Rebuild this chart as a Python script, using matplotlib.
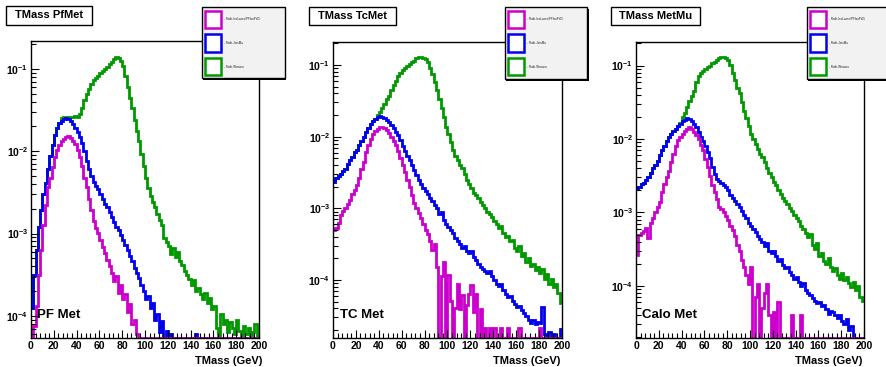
import numpy as np
import matplotlib
matplotlib.use('Agg')
import matplotlib.pyplot as plt
from matplotlib.patches import Rectangle
from matplotlib.ticker import FixedLocator, FuncFormatter, MultipleLocator, NullFormatter

plt.rcParams['font.family'] = ['Liberation Sans', 'DejaVu Sans']
plt.rcParams['mathtext.fontset'] = 'custom'
plt.rcParams['mathtext.rm'] = 'Liberation Sans:bold'
plt.rcParams['mathtext.bf'] = 'Liberation Sans:bold'
plt.rcParams['mathtext.it'] = 'Liberation Sans:bold'

# ---------------- data: log10(bin content), 2 GeV bins 0..200, None = empty bin
bin_edges = np.arange(0, 202, 2)
N = None

pf_iso = [
    N, -4.13, -3.88, -3.50, -3.20, -2.90, -2.65, -2.43, -2.33, -2.19,
    -2.07, -1.99, -1.93, -1.88, -1.85, -1.83, -1.82, -1.84, -1.87, -1.91,
    -1.98, -2.07, -2.18, -2.33, -2.44, -2.58, -2.72, -2.85, -2.93, -2.99,
    -3.08, -3.16, -3.24, -3.32, -3.40, -3.48, -3.58, -3.52, -3.72, -3.62,
    -3.80, -3.74, -3.95, -3.86, -4.10, -4.05, -4.22, N, N, N,
    N, N, N, N, N, N, N, N, N, N,
    N, N, N, N, N, N, N, N, N, N,
    N, N, N, N, N, N, N, N, N, N,
    N, N, N, N, N, N, N, N, N, N,
    N, N, N, N, N, N, N, N, N, N]
pf_jets = [
    -3.90, -3.50, -3.20, -2.92, -2.72, -2.52, -2.38, -2.22, -2.06, -1.92,
    -1.80, -1.72, -1.66, -1.63, -1.61, -1.60, -1.61, -1.63, -1.67, -1.72,
    -1.77, -1.83, -1.90, -2.00, -2.12, -2.22, -2.30, -2.37, -2.42, -2.46,
    -2.52, -2.58, -2.64, -2.68, -2.74, -2.80, -2.86, -2.92, -2.96, -3.02,
    -3.08, -3.14, -3.20, -3.27, -3.34, -3.42, -3.48, -3.54, -3.62, -3.70,
    -3.80, -3.76, -3.90, -3.84, -4.05, -3.98, -4.20, -4.06, N, -4.18,
    N, -4.22, N, N, N, N, N, N, N, N,
    N, N, -4.22, N, N, N, N, N, N, N,
    N, N, N, N, N, N, N, N, N, N,
    N, N, N, N, N, N, N, N, N, N]
pf_wmunu = [
    -3.90, -3.50, -3.20, -2.92, -2.72, -2.52, -2.38, -2.22, -2.06, -1.92,
    -1.80, -1.72, -1.66, -1.60, -1.58, -1.58, -1.58, -1.58, -1.58, -1.57,
    -1.58, -1.55, -1.47, -1.38, -1.31, -1.24, -1.18, -1.14, -1.11, -1.08,
    -1.05, -1.03, -1.00, -0.97, -0.94, -0.91, -0.88, -0.86, -0.87, -0.90,
    -0.96, -1.08, -1.22, -1.35, -1.48, -1.62, -1.75, -1.88, -2.03, -2.18,
    -2.33, -2.45, -2.55, -2.62, -2.68, -2.76, -2.84, -2.90, -3.06, -3.10,
    -3.15, -3.25, -3.18, -3.28, -3.22, -3.33, -3.38, -3.45, -3.50, -3.55,
    -3.62, -3.56, -3.70, -3.66, -3.74, -3.80, -3.72, -3.85, -3.78, -3.92,
    -3.88, -4.15, N, -3.98, -4.10, -4.05, -4.20, -4.08, -4.15, -4.22,
    -4.05, -4.18, N, -4.12, -4.22, -4.15, N, -4.20, -4.10, -4.25]

tc_iso = [
    -3.30, -3.28, -3.20, -3.10, -3.04, -3.00, -2.94, -2.88, -2.80, -2.75,
    -2.68, -2.58, -2.45, -2.35, -2.22, -2.12, -2.04, -1.97, -1.92, -1.89,
    -1.87, -1.86, -1.88, -1.91, -1.95, -2.00, -2.06, -2.12, -2.20, -2.30,
    -2.40, -2.50, -2.60, -2.70, -2.82, -2.92, -3.00, -3.06, -3.14, -3.22,
    -3.30, -3.36, -3.45, -3.58, -3.50, -3.82, N, -3.95, -3.75, N,
    -3.93, -4.30, N, -4.39, -4.05, -4.40, -4.21, N, -4.35, -4.20,
    -4.07, -4.45, -4.20, N, -4.40, N, -4.67, N, -4.67, N,
    -4.67, N, N, -4.67, N, N, -4.67, N, N, N,
    N, -4.67, N, N, N, N, N, N, N, N,
    -4.67, N, N, N, N, N, N, N, N, N]
tc_jets = [
    -2.63, -2.58, -2.55, -2.52, -2.48, -2.45, -2.38, -2.33, -2.28, -2.22,
    -2.18, -2.12, -2.06, -2.00, -1.93, -1.88, -1.82, -1.78, -1.75, -1.72,
    -1.71, -1.72, -1.74, -1.77, -1.80, -1.84, -1.88, -1.93, -1.98, -2.05,
    -2.13, -2.20, -2.27, -2.33, -2.40, -2.46, -2.54, -2.60, -2.66, -2.72,
    -2.76, -2.80, -2.85, -2.90, -2.95, -3.00, -3.08, -3.05, -3.16, -3.22,
    -3.26, -3.30, -3.35, -3.42, -3.46, -3.50, -3.55, -3.52, -3.60, -3.63,
    -3.60, -3.68, -3.72, -3.78, -3.82, -3.85, -3.88, -3.90, -3.88, -3.95,
    -4.00, -4.05, -4.08, -4.06, -4.14, -4.20, -4.24, -4.22, -4.30, -4.34,
    -4.38, -4.36, -4.42, -4.46, -4.50, -4.56, -4.60, -4.56, -4.62, -4.58,
    -4.60, -4.38, -4.75, N, -4.72, N, -4.75, N, N, -4.68]
tc_wmunu = [
    -2.63, -2.58, -2.55, -2.52, -2.48, -2.45, -2.38, -2.33, -2.28, -2.22,
    -2.18, -2.12, -2.06, -2.00, -1.93, -1.88, -1.82, -1.78, -1.75, -1.70,
    -1.65, -1.60, -1.54, -1.48, -1.43, -1.35, -1.28, -1.22, -1.16, -1.11,
    -1.07, -1.04, -1.01, -0.98, -0.96, -0.94, -0.91, -0.89, -0.89, -0.90,
    -0.92, -0.96, -1.04, -1.12, -1.24, -1.35, -1.47, -1.60, -1.73, -1.86,
    -1.97, -2.08, -2.18, -2.27, -2.33, -2.39, -2.44, -2.52, -2.60, -2.66,
    -2.72, -2.78, -2.82, -2.86, -2.91, -2.95, -3.00, -3.05, -3.08, -3.12,
    -3.18, -3.22, -3.28, -3.25, -3.35, -3.40, -3.38, -3.46, -3.44, -3.55,
    -3.60, -3.52, -3.66, -3.62, -3.75, -3.70, -3.80, -3.78, -3.86, -3.82,
    -3.90, -3.85, -3.98, -3.92, -4.05, -3.98, -4.10, -4.05, -4.18, -4.32]

calo_iso = [
    -3.58, -3.31, -3.28, -3.25, -3.21, -3.35, -3.15, -3.08, -3.00, -2.93,
    -2.86, -2.72, -2.62, -2.52, -2.43, -2.32, -2.20, -2.10, -2.02, -1.97,
    -1.93, -1.89, -1.86, -1.84, -1.86, -1.90, -1.95, -2.00, -2.08, -2.15,
    -2.27, -2.38, -2.50, -2.63, -2.72, -2.82, -2.92, -2.96, -3.00, -3.05,
    -3.10, -3.18, -3.24, -3.32, -3.45, -3.52, -3.65, -3.75, -3.85, -3.98,
    -3.75, N, -4.15, -3.98, N, -4.30, -4.10, -3.98, -4.40, N,
    -4.35, N, -4.22, N, N, N, N, N, -4.40, N,
    N, N, -4.40, N, N, N, N, N, N, N,
    N, N, N, N, N, N, N, N, N, N,
    N, N, N, N, N, N, N, N, N, N]
calo_jets = [
    -2.67, -2.66, -2.62, -2.60, -2.56, -2.52, -2.46, -2.40, -2.36, -2.30,
    -2.22, -2.15, -2.10, -2.03, -1.97, -1.93, -1.89, -1.86, -1.82, -1.79,
    -1.76, -1.74, -1.72, -1.73, -1.76, -1.80, -1.84, -1.90, -1.97, -2.03,
    -2.10, -2.18, -2.26, -2.38, -2.48, -2.54, -2.57, -2.60, -2.63, -2.66,
    -2.70, -2.76, -2.80, -2.84, -2.88, -2.93, -2.98, -3.03, -3.08, -3.14,
    -3.18, -3.22, -3.27, -3.32, -3.36, -3.40, -3.46, -3.42, -3.52, -3.55,
    -3.52, -3.60, -3.66, -3.64, -3.72, -3.76, -3.74, -3.81, -3.85, -3.90,
    -3.88, -3.95, -4.00, -3.96, -4.06, -4.10, -4.12, -4.16, -4.20, -4.24,
    -4.22, -4.28, -4.26, -4.32, -4.38, -4.34, -4.36, -4.40, -4.44, -4.40,
    -4.48, -4.52, -4.45, -4.60, -4.55, N, N, N, N, N]
calo_wmunu = [
    -2.67, -2.66, -2.62, -2.60, -2.56, -2.52, -2.46, -2.40, -2.36, -2.30,
    -2.22, -2.15, -2.10, -2.03, -1.97, -1.93, -1.89, -1.86, -1.82, -1.78,
    -1.70, -1.64, -1.56, -1.48, -1.42, -1.35, -1.22, -1.14, -1.10, -1.07,
    -1.05, -1.02, -1.00, -0.97, -0.95, -0.93, -0.90, -0.88, -0.88, -0.90,
    -0.93, -0.99, -1.10, -1.20, -1.30, -1.38, -1.50, -1.62, -1.72, -1.82,
    -1.93, -2.00, -2.07, -2.14, -2.20, -2.25, -2.32, -2.40, -2.46, -2.52,
    -2.58, -2.63, -2.70, -2.75, -2.80, -2.85, -2.89, -2.94, -2.98, -3.03,
    -3.07, -3.12, -3.18, -3.22, -3.28, -3.34, -3.30, -3.45, -3.50, -3.42,
    -3.60, -3.55, -3.66, -3.70, -3.62, -3.74, -3.80, -3.76, -3.85, -3.90,
    -3.82, -3.92, -3.88, -3.96, -4.02, -3.95, -4.05, -4.00, -4.15, -4.20]

panel_titles = ["TMass PfMet", "TMass TcMet", "TMass MetMu"]
panel_tags = ["PF Met", "TC Met", "Calo Met"]
legend_labels = ["Roth-IsoLoose/PFIsoPt05", "Roth-JetsMu", "Roth-Wmunu"]
x_ticks = [0, 20, 40, 60, 80, 100, 120, 140, 160, 180, 200]
y_decades = [1e-4, 1e-3, 1e-2, 1e-1]
y_limits = [(10 ** -4.27, 10 ** -0.66), (10 ** -4.81, 10 ** -0.68), (10 ** -4.71, 10 ** -0.68)]
series = [(pf_wmunu, pf_jets, pf_iso), (tc_wmunu, tc_jets, tc_iso), (calo_wmunu, calo_jets, calo_iso)]

# ---------------- styling / layout
c_green, c_blue, c_mag = '#009900', '#0000ee', '#cc00cc'
W, H = 887, 367
fig = plt.figure(figsize=(W / 100, H / 100), dpi=100)
fig.patch.set_facecolor('white')

def fx(x):
    return x / W

def fy(y):
    return 1 - y / H

axes_px = [(31, 41, 259, 338), (333, 42, 562, 338), (636, 42, 864, 338)]
title_px = [(6, 6, 92, 25), (309, 7, 396, 25), (611, 7, 700, 25)]
legend_px = [(202, 7, 285, 78), (505, 7, 587, 79), (807, 7, 889, 79)]
tag_px = [(37, 315), (340, 315), (642, 315)]
xlab_px = [262, 560, 862]

for k in range(3):
    l, t, r, b = axes_px[k]
    ax = fig.add_axes([fx(l), fy(b), fx(r) - fx(l), fy(t) - fy(b)])
    ymin, ymax = y_limits[k]
    ax.set_yscale('log')
    for vals, col in zip(series[k], (c_green, c_blue, c_mag)):
        v = np.array([10.0 ** x if x is not None else 0.0 for x in vals])
        v = np.maximum(v, ymin)
        ax.stairs(v, bin_edges, baseline=None, color=col, lw=2.0)
    ax.set_xlim(0, 200)
    ax.set_ylim(ymin, ymax)
    ax.xaxis.set_major_locator(FixedLocator(x_ticks))
    ax.xaxis.set_minor_locator(MultipleLocator(4))
    ax.yaxis.set_major_locator(FixedLocator(y_decades))
    minors = [m * d for d in [1e-5, 1e-4, 1e-3, 1e-2, 1e-1] for m in range(2, 10)]
    ax.yaxis.set_minor_locator(FixedLocator(minors))
    ax.yaxis.set_minor_formatter(NullFormatter())
    ax.yaxis.set_major_formatter(FuncFormatter(lambda v, p: r'$\mathbf{10^{%d}}$' % round(np.log10(v))))
    ax.tick_params(which='both', direction='in', top=False, right=False, width=0.8, colors='black')
    ax.tick_params(which='major', length=6, labelsize=7.5, pad=2)
    ax.tick_params(which='minor', length=3.5)
    for lab in ax.get_xticklabels():
        lab.set_fontweight('bold')
    for sp in ax.spines.values():
        sp.set_linewidth(1.0)
    ax.text(fx(tag_px[k][0]), fy(tag_px[k][1]), panel_tags[k], transform=fig.transFigure,
            fontsize=9.5, fontweight='bold', ha='left', va='center')
    fig.text(fx(xlab_px[k]), fy(361), "TMass (GeV)", fontsize=8, fontweight='bold', ha='right', va='center')

    # title box
    tl, tt, tr, tb = title_px[k]
    fig.patches.append(Rectangle((fx(tl), fy(tb)), fx(tr) - fx(tl), fy(tt) - fy(tb), transform=fig.transFigure,
                                 facecolor='white', edgecolor='black', lw=1.0, zorder=5))
    fig.text((fx(tl) + fx(tr)) / 2, (fy(tt) + fy(tb)) / 2, panel_titles[k], fontsize=8, fontweight='bold',
             ha='center', va='center', zorder=6)

    # legend box
    ll, lt, lr, lb = legend_px[k]
    fig.patches.append(Rectangle((fx(ll + 1.5), fy(lb + 1.5)), fx(lr) - fx(ll), fy(lt) - fy(lb),
                                 transform=fig.transFigure, facecolor='black', edgecolor='none', zorder=5))
    fig.patches.append(Rectangle((fx(ll), fy(lb)), fx(lr) - fx(ll), fy(lt) - fy(lb), transform=fig.transFigure,
                                 facecolor='#f2f2f2', edgecolor='black', lw=1.0, zorder=5))
    for j, (col, lab) in enumerate(zip((c_mag, c_blue, c_green), legend_labels)):
        sy0 = lt + 4 + j * 23.5
        fig.patches.append(Rectangle((fx(ll + 3), fy(sy0 + 17)), fx(16), fy(0) - fy(17), transform=fig.transFigure,
                                     facecolor='white', edgecolor=col, lw=1.8, zorder=6))
        fig.text(fx(ll + 22), fy(sy0 + 8.5), "- " + lab, fontsize=2.2, ha='left', va='center', zorder=7,
                 color='#222222')

fig.savefig('out.png', dpi=100, facecolor='white')
